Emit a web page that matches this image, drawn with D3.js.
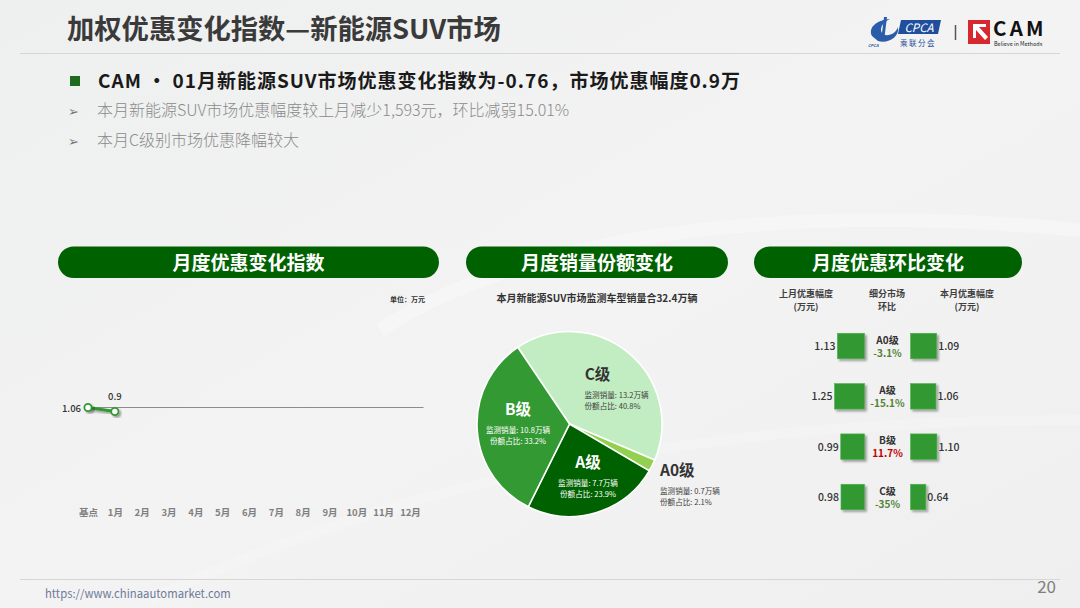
<!DOCTYPE html>
<html><head><meta charset="utf-8">
<script src="https://cdn.jsdelivr.net/npm/d3@7/dist/d3.min.js"></script>
<style>
html,body{margin:0;padding:0;background:#f1f2f2;}
svg{display:block;}
text{font-family:"Noto Sans CJK SC","Noto Sans",sans-serif;}
</style></head>
<body>
<svg id="c" width="1080" height="608"></svg>
<script>
// ---------- data ----------
const pageTitle = "加权优惠变化指数—新能源SUV市场";
const headline = "CAM • 01月新能源SUV市场优惠变化指数为-0.76，市场优惠幅度0.9万";
const bullets = ["本月新能源SUV市场优惠幅度较上月减少1,593元，环比减弱15.01%", "本月C级别市场优惠降幅较大"];
const panelTitles = ["月度优惠变化指数", "月度销量份额变化", "月度优惠环比变化"];

// left panel: monthly index
const months = ["基点","1月","2月","3月","4月","5月","6月","7月","8月","9月","10月","11月","12月"];
const indexValues = [1.06, 0.9];
const baseValue = 1.06;

// middle panel: pie
const pieTitle = "本月新能源SUV市场监测车型销量合32.4万辆";
const segNames = ["C级","A0级","A级","B级"];
const segSales = [13.2, 0.7, 7.7, 10.8];     // 万辆
const segShare = [40.8, 2.1, 23.9, 33.2];    // %

// right panel: month-over-month
const rowNames = ["A0级","A级","B级","C级"];
const lastMonth = [1.13, 1.25, 0.99, 0.98];
const thisMonth = [1.09, 1.06, 1.10, 0.64];
const momText = ["-3.1%","-15.1%","11.7%","-35%"];
const momValue = [-3.1, -15.1, 11.7, -35];

// ---------- drawing ----------
const svg = d3.select("#c");
const defs = svg.append("defs");
const bg = defs.append("linearGradient").attr("id","bg").attr("x1","0").attr("y1","0").attr("x2","1").attr("y2","1");
bg.append("stop").attr("offset","0").attr("stop-color","#eeefef");
bg.append("stop").attr("offset","0.5").attr("stop-color","#f3f3f3");
bg.append("stop").attr("offset","1").attr("stop-color","#efefef");
const sh = defs.append("filter").attr("id","sh").attr("x","-30%").attr("y","-30%").attr("width","170%").attr("height","170%");
sh.append("feDropShadow").attr("dx",2).attr("dy",2).attr("stdDeviation",1.3).attr("flood-color","#000").attr("flood-opacity",0.35);

svg.append("rect").attr("width",1080).attr("height",608).attr("fill","url(#bg)");
// faint decorative curves
svg.append("path").attr("d","M380,330 C520,240 760,200 1080,230").attr("fill","none").attr("stroke","#fff").attr("stroke-width",14).attr("opacity",0.3);
svg.append("path").attr("d","M150,600 C400,480 700,420 1080,420").attr("fill","none").attr("stroke","#fff").attr("stroke-width",10).attr("opacity",0.2);

// header
svg.append("text").attr("x",67).attr("y",39).attr("font-size",27.3).attr("font-weight",700).attr("fill","#3a3a3a").text(pageTitle);
svg.append("line").attr("x1",20).attr("x2",1060).attr("y1",53.5).attr("y2",53.5).attr("stroke","#d6d6d6").attr("stroke-width",1.2);

// logos
const lg = svg.append("g");
lg.append("path").attr("d","M872,36 C868,28 876,20 890,19 C883,22 879,28 882,33 C886,38 896,34 898,27 C900,37 888,44 878,41 Z").attr("fill","#2a5caa");
lg.append("path").attr("d","M884,17 L887,17 L884,41 L881,41 Z").attr("fill","#2a5caa");
lg.append("text").attr("x",868).attr("y",47).attr("font-size",4).attr("font-style","italic").attr("font-weight",700).attr("font-family","Liberation Sans").attr("fill","#2a5caa").text("CPCA");
lg.append("path").attr("d","M901,20 L941,20 L938,34 L898,34 Z").attr("fill","#1f4e9c");
lg.append("text").attr("x",919).attr("y",31.5).attr("text-anchor","middle").attr("font-size",11.5).attr("font-style","italic").attr("font-family","Liberation Sans").attr("fill","#fff").text("CPCA");
lg.append("text").attr("x",918).attr("y",46).attr("text-anchor","middle").attr("font-size",7.5).attr("fill","#1f4e9c").attr("letter-spacing",1.5).text("乘联分会");
lg.append("line").attr("x1",955.5).attr("x2",955.5).attr("y1",25).attr("y2",40).attr("stroke","#555").attr("stroke-width",1.5);
lg.append("rect").attr("x",968).attr("y",20).attr("width",22).attr("height",24).attr("fill","#d7282f");
lg.append("path").attr("d","M973,24 L986,24 L986,27 L979,27 L988,37 L985,40 L976,30 L976,38 L973,38 Z").attr("fill","#fff");
lg.append("text").attr("x",993).attr("y",36).attr("font-size",20.5).attr("font-weight",700).attr("font-family","Liberation Sans").attr("fill","#111").attr("letter-spacing",3.2).text("CAM");
lg.append("text").attr("x",994).attr("y",46.3).attr("font-size",5.5).attr("font-family","Liberation Serif").attr("fill","#222").text("Believe in Methods");

// headline and bullets
svg.append("rect").attr("x",70).attr("y",76).attr("width",10).attr("height",10).attr("fill","#1e6b1e");
svg.append("text").attr("x",98).attr("y",88).attr("font-size",19).attr("font-weight",700).attr("letter-spacing",1).attr("fill","#1a1a1a").text(headline);
bullets.forEach((b,i)=>{
  const y = 116 + i*30;
  svg.append("text").attr("x",68).attr("y",y).attr("font-size",13).attr("fill","#777").text("➢");
  svg.append("text").attr("x",97).attr("y",y).attr("font-size",16).attr("font-weight",300).attr("fill","#8a8a8a").text(b);
});

// panel pills
const pills = [{x:58,w:381},{x:466,w:262},{x:754,w:268}];
pills.forEach((p,i)=>{
  svg.append("rect").attr("x",p.x).attr("y",246.5).attr("width",p.w).attr("height",31.5).attr("rx",15.75).attr("fill","#006100");
  svg.append("text").attr("x",p.x+p.w/2).attr("y",269.5).attr("text-anchor","middle").attr("font-size",19).attr("font-weight",700).attr("fill","#fff").text(panelTitles[i]);
});

// ---------- left panel: line chart ----------
const x = d3.scalePoint().domain(months).range([88,410]);
const y = d3.scaleLinear().domain([-2,4]).range([484,334]);
svg.append("text").attr("x",425).attr("y",302).attr("text-anchor","end").attr("font-size",7).attr("font-weight",700).attr("fill","#333").text("单位：万元");
svg.append("line").attr("x1",x(months[0])).attr("x2",x(months[months.length-1])+13.5)
  .attr("y1",y(baseValue)).attr("y2",y(baseValue)).attr("stroke","#8c8c8c").attr("stroke-width",1.1);
const xAxis = svg.append("g").attr("transform","translate(0,512)")
  .call(d3.axisBottom(x).tickSize(0).tickPadding(0));
xAxis.select(".domain").remove();
xAxis.selectAll("text").attr("font-size",9.5).attr("font-weight",700).attr("fill","#7f7f7f").attr("font-family","Noto Sans CJK SC").attr("dy","0.4em");
const pts = indexValues.map((v,i)=>({m:months[i],v}));
const lineGen = d3.line().x(d=>x(d.m)).y(d=>y(d.v));
svg.append("path").datum(pts).attr("d",lineGen).attr("fill","none").attr("stroke","#339933").attr("stroke-width",3.2).attr("filter","url(#sh)");
svg.selectAll(".pt").data(pts).join("circle").attr("cx",d=>x(d.m)).attr("cy",d=>y(d.v)).attr("r",3.6)
  .attr("fill","#fff").attr("stroke","#339933").attr("stroke-width",1.8).attr("filter","url(#sh)");
svg.append("text").attr("x",x(months[0])-7).attr("y",y(indexValues[0])+4).attr("text-anchor","end").attr("font-size",9.5).attr("font-weight",500).attr("fill","#333").text(d3.format(".2f")(indexValues[0]));
svg.append("text").attr("x",x(months[1])).attr("y",y(indexValues[1])-12).attr("text-anchor","middle").attr("font-size",9.5).attr("font-weight",500).attr("fill","#333").text(indexValues[1]);

// ---------- middle panel: pie ----------
svg.append("text").attr("x",597).attr("y",301.5).attr("text-anchor","middle").attr("font-size",10).attr("font-weight",700).attr("fill","#333").text(pieTitle);
const pieColors = ["#c2edc2","#92d050","#006100","#339933"];
const cx = 569.5, cy = 424, R = 92.5;
const pie = d3.pie().sort(null).value(d=>d.share).startAngle(-34*Math.PI/180).endAngle((360-34)*Math.PI/180);
const pieData = pie(segNames.map((n,i)=>({n,share:segShare[i],sales:segSales[i],i})));
const arc = d3.arc().innerRadius(0).outerRadius(R);
const pg = svg.append("g").attr("transform",`translate(${cx},${cy})`);
pg.selectAll("path").data(pieData).join("path").attr("d",arc).attr("fill",(d,i)=>pieColors[i]).attr("stroke","#fff").attr("stroke-width",1.6);
// labels
const pieLabels = [
  {hx:28, dy:-50, ha:"middle", tx:15, ta:"start", color:"#333", sub:"#404040"},
  {hx:90.5, dy:46, ha:"start", tx:90.5, ta:"start", color:"#333", sub:"#404040"},
  {hx:18.5, dy:38, ha:"middle", tx:18.5, ta:"middle", color:"#fff", sub:"#fff"},
  {hx:-51.5, dy:-15, ha:"middle", tx:-51.5, ta:"middle", color:"#fff", sub:"#fff"}
];
pieData.forEach((d,i)=>{
  const L = pieLabels[i];
  pg.append("text").attr("x",L.hx).attr("y",L.dy+5.5).attr("text-anchor",L.ha).attr("font-size",15.5).attr("font-weight",700).attr("fill",L.color).text(d.data.n);
  const l1 = "监测销量: " + d.data.sales + "万辆";
  const l2 = "份额占比: " + d.data.share + "%";
  [l1,l2].forEach((t,k)=>{
    pg.append("text").attr("x",L.tx).attr("y",L.dy+24+k*11.3).attr("text-anchor",L.ta).attr("font-size",7.6).attr("fill",L.sub).text(t);
  });
});

// ---------- right panel ----------
const hdr = [{x:806,l:["上月优惠幅度","(万元)"]},{x:887,l:["细分市场","环比"]},{x:967,l:["本月优惠幅度","(万元)"]}];
hdr.forEach(h=>{
  h.l.forEach((s,k)=>svg.append("text").attr("x",h.x).attr("y",296.5+k*13.2).attr("text-anchor","middle").attr("font-size",9).attr("font-weight",700).attr("fill","#404040").text(s));
});
const w = d3.scaleLinear().domain([0,1.25]).range([0,30]);
const rowY = d3.scalePoint().domain(rowNames).range([346,497]);
const bh = 25.5, leftEdge = 864.5, rightEdge = 910.5;
rowNames.forEach((n,i)=>{
  const cyR = rowY(n);
  svg.append("rect").attr("x",leftEdge - w(lastMonth[i])).attr("y",cyR-bh/2).attr("width",w(lastMonth[i])).attr("height",bh)
    .attr("fill","#339933").attr("stroke","#4fb04f").attr("stroke-width",0.6).attr("filter","url(#sh)");
  svg.append("rect").attr("x",rightEdge).attr("y",cyR-bh/2).attr("width",w(thisMonth[i])).attr("height",bh)
    .attr("fill","#339933").attr("stroke","#4fb04f").attr("stroke-width",0.6).attr("filter","url(#sh)");
  svg.append("text").attr("x",leftEdge - w(lastMonth[i]) - 2).attr("y",cyR+4).attr("text-anchor","end").attr("font-size",10.5).attr("font-weight",500).attr("fill","#333").text(d3.format(".2f")(lastMonth[i]));
  svg.append("text").attr("x",rightEdge + w(thisMonth[i]) + 1.5).attr("y",cyR+4).attr("text-anchor","start").attr("font-size",10.5).attr("font-weight",500).attr("fill","#333").text(d3.format(".2f")(thisMonth[i]));
  svg.append("text").attr("x",887.5).attr("y",cyR-2.5).attr("text-anchor","middle").attr("font-size",10).attr("font-weight",700).attr("fill","#333").text(n);
  svg.append("text").attr("x",887.5).attr("y",cyR+10.5).attr("text-anchor","middle").attr("font-size",10).attr("font-weight",700).attr("fill",momValue[i]<0?"#548235":"#c00000").text(momText[i]);
});

// footer
svg.append("line").attr("x1",20).attr("x2",1060).attr("y1",579.5).attr("y2",579.5).attr("stroke","#d6d6d6").attr("stroke-width",1.2);
svg.append("text").attr("x",45).attr("y",598).attr("font-size",11.3).attr("font-family","Liberation Sans Narrow, Liberation Sans").attr("fill","#6c7a99").text("https://www.chinaautomarket.com");
svg.append("text").attr("x",1056).attr("y",593).attr("text-anchor","end").attr("font-size",17).attr("font-family","Liberation Sans Narrow, Liberation Sans").attr("fill","#7f7f7f").text("20");
</script>
</body></html>
